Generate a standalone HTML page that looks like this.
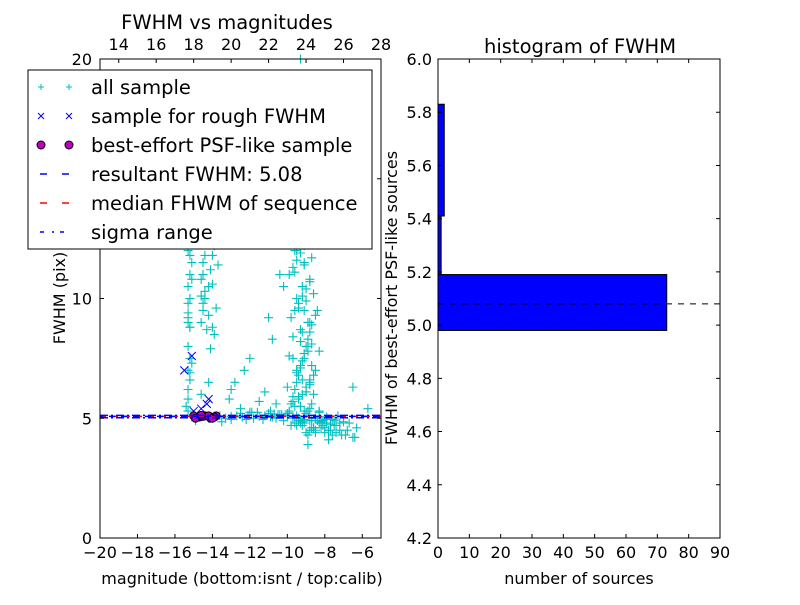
<!DOCTYPE html>
<html><head><meta charset="utf-8"><style>
body{margin:0;background:#fff;font-family:"Liberation Sans","DejaVu Sans",sans-serif}
svg text{font-family:"DejaVu Sans","Liberation Sans",sans-serif}
</style></head><body>
<svg id="c" width="800" height="600" xmlns="http://www.w3.org/2000/svg"></svg>
<script>
// scatter data: all sample (magnitude, fwhm)
const allX=[-15.3,-15.3,-15.2,-15.3,-15.2,-15.3,-15.2,-15.3,-15.3,-15.2,-15.3,-15.2,-15.1,-15.3,-15.2,-15.3,-15.2,-15.4,-15.1,-15.3,
-14.6,-14.5,-14.4,-14.6,-14.5,-14.3,-14.6,-14.5,-14.4,-14.2,-14.1,-14.0,-13.9,-14.3,-14.2,-14.0,-13.8,-14.5,-14.4,-13.9,-14.1,-14.6,-14.3,-13.7,-14.0,-14.2,
-9.9,-9.8,-9.7,-9.6,-9.5,-9.4,-9.3,-9.2,-9.1,-9.0,-8.9,-8.8,-8.7,-9.8,-9.6,-9.4,-9.2,-9.0,-8.8,-9.9,-9.7,-9.5,-9.3,-9.1,-8.9,-9.6,-9.4,-9.2,-9.0,-8.7,-9.5,-9.3,-9.1,-8.9,-9.8,-9.4,-9.0,-8.6,-8.5,-9.7,-9.3,-8.8,-9.5,-9.1,-9.6,-9.2,-8.8,-9.4,-9.0,-10.2,-10.5,-9.9,-9.3,-8.3,-9.8,-8.9,-9.4,-10.0,-9.2,-8.7,-9.1,-9.5,-8.6,-9.3,-9.7,-9.0,-8.8,
-9.6,-9.3,-9.0,-10.1,-10.4,-8.4,-9.9,-9.2,-11.5,-11.2,-10.8,-12.3,-13.1,-12.0,-11.0,-10.6,-12.8,
-14.8,-14.5,-14.2,-13.9,-13.6,-13.3,-13.0,-12.7,-12.4,-12.1,-11.8,-11.5,-11.2,-10.9,-10.6,-10.3,-10.0,-9.7,-9.4,-9.1,-8.8,-8.5,-8.2,-7.9,-7.6,-7.3,-12.5,-11.6,-10.4,-9.3,-8.1,-13.5,-11.9,-10.7,-9.8,-8.6,-14.9,-12.2,
-8.3,-8.0,-7.7,-7.4,-7.1,-6.8,-6.5,-6.3,-8.1,-7.5,-6.9,-7.8,-8.5,-6.7,-7.2,-6.4,-5.7,-6.5,-8.9,
-9.6,-9.4,-9.2,-9.0,-8.8,-9.5,-9.3,-9.1,-8.9,-8.7,-9.7,-9.3,-8.9,-8.5,-9.4,-9.0,-8.6,-9.2,-8.8,-9.6,-9.1,-8.7,-9.5,-9.0,-8.4,-9.8,-9.2,-8.6,-9.3,-8.9,
-9.5,-9.1,-8.7,-9.4,-8.8,-9.2,-9.0,-8.6,-9.6,-8.5,-9.3,-8.9,-9.1,-8.7,-9.4,-9.0,-8.8,-8.2,-8.0,-7.8,-8.4,-7.6,-8.1,-7.9,-8.3,
-11.0,-10.5,-10.0,-9.5,-9.0,-8.5,-8.0,-7.5,-7.0,-11.3,-10.8,-10.2,-9.7,-9.2,-8.7,-8.2,-7.7,-7.2,-13.0,-12.0,-10.9,-9.9,-8.9,-8.3,-7.4,
-15.2,-15.3,-15.1,-14.5,-14.4,-14.3,-14.6,-13.0,-12.5,-9.9,-10.1,-9.7,-9.8,-9.6,-9.9,-9.7];
const allY=[5.8,6.2,6.6,7.0,7.5,8.0,8.8,9.0,9.4,10.0,10.5,11.0,11.5,12.0,11.8,9.2,6.9,5.5,7.3,5.3,
9.0,9.5,10.0,10.8,11.5,12.5,13.0,9.8,10.3,10.5,11.2,11.8,12.2,8.7,9.3,10.6,9.6,11.0,12.8,8.5,7.9,10.1,13.5,11.4,8.8,6.5,
5.3,5.6,5.9,6.2,6.5,6.8,7.1,7.4,7.7,8.0,8.3,8.6,8.9,9.2,9.5,9.8,10.1,10.4,10.7,11.0,11.3,11.6,11.9,12.2,12.5,12.8,13.1,13.4,13.7,14.0,14.5,15.0,15.5,16.0,16.5,17.0,17.5,6.0,7.0,7.5,8.2,9.0,10.0,11.5,12.0,14.8,6.5,18.5,19.2,10.5,12.5,13.8,20.0,7.8,15.2,8.0,5.9,6.3,6.6,7.2,9.5,7.0,6.8,5.5,5.7,6.1,5.4,
16.2,17.8,12.8,13.0,11.0,9.5,7.6,8.6,5.7,6.1,8.3,7.0,5.8,7.5,9.2,5.6,6.5,
5.05,5.1,5.0,5.05,5.1,5.0,5.08,5.1,5.05,5.12,5.0,5.08,5.1,5.05,5.0,5.15,5.1,5.05,5.0,4.95,4.9,5.0,4.85,5.05,4.95,5.1,5.2,5.25,5.15,4.8,4.9,4.85,5.25,5.18,4.7,4.6,4.9,4.95,
4.8,4.6,4.5,4.4,4.3,4.5,4.2,4.6,4.9,4.7,4.3,4.1,4.4,4.8,4.5,4.2,5.4,6.3,3.9,
5.5,5.8,6.0,6.3,6.6,6.9,7.2,7.5,7.8,8.1,8.4,8.7,9.0,9.3,9.6,9.9,10.2,10.5,10.8,11.1,11.4,11.7,12.0,12.3,12.6,13.0,13.3,13.6,14.2,14.6,
4.7,4.8,4.6,4.9,4.5,4.7,4.4,4.6,4.8,4.5,4.9,4.3,5.3,5.6,5.9,6.1,6.4,4.6,4.4,4.5,4.9,4.3,4.7,4.8,5.3,
5.2,5.15,5.2,5.1,5.2,5.0,4.95,4.9,4.85,4.95,5.05,4.9,5.0,4.85,4.9,4.8,4.75,4.8,4.95,5.25,5.3,5.22,5.3,5.25,4.7,
8.8,9.8,10.8,12.5,11.8,13.3,6.0,6.2,5.4,15.8,14.6,16.8,17.2,18.0,12.8,15.6];
// sample for rough FWHM
const roughX=[-15.5,-15.1,-15.0,-14.2,-14.3,-14.6];
const roughY=[7.0,7.6,5.3,5.8,5.6,5.4];
// best-effort PSF-like sample
const psfX=[-15.0,-14.7,-14.4,-14.1,-13.8,-14.9,-14.5,-14.2,-13.9,-14.6,-14.0];
const psfY=[5.1,5.05,5.1,5.0,5.1,5.0,5.08,5.1,5.05,5.12,5.0];
const resultFWHM=5.08, medianFWHM=5.08, sigmaLo=5.02, sigmaHi=5.12;
// histogram
const binLo=[4.98,5.19,5.41];
const binHi=[5.19,5.41,5.83];
const binCount=[73,1,2];
const xTicksL=[-20,-18,-16,-14,-12,-10,-8,-6];
const xTicksTop=[14,16,18,20,22,24,26,28];
const yTicksL=[0,5,10,15,20];
const xTicksR=[0,10,20,30,40,50,60,70,80,90];
const yTicksR=[4.2,4.4,4.6,4.8,5.0,5.2,5.4,5.6,5.8,6.0];

const NS="http://www.w3.org/2000/svg",svg=document.getElementById('c');
function E(t,a,p){const e=document.createElementNS(NS,t);for(const k in a)e.setAttribute(k,a[k]);(p||svg).appendChild(e);return e;}
const L={x0:100,x1:381,y0:59,y1:538};
const lx=v=>L.x0+(v+20)/15*(L.x1-L.x0), ly=v=>L.y1-v/20*(L.y1-L.y0), tx=v=>lx(v-33);
const R={x0:438,x1:720,y0:59,y1:538};
const rx=v=>R.x0+v/90*(R.x1-R.x0), ry=v=>R.y1-(v-4.2)/1.8*(R.y1-R.y0);
const FS=16;

// left plot
const gl=E('g',{});
const gp=E('g',{},gl);
allX.forEach((x,i)=>{const X=lx(x),Y=ly(allY[i]);E('path',{d:`M${X-4.5},${Y}h9M${X},${Y-4.5}v9`,stroke:'#00bfbf','stroke-width':1.1},gp);});
const gr=E('g',{},gl);
roughX.forEach((x,i)=>{const X=lx(x),Y=ly(roughY[i]);E('path',{d:`M${X-4},${Y-4}l8,8M${X-4},${Y+4}l8,-8`,stroke:'#0000ff','stroke-width':1},gr);});
const gq=E('g',{},gl);
psfX.forEach((x,i)=>E('circle',{cx:lx(x),cy:ly(psfY[i]),r:4,fill:'#bf00bf',stroke:'#000'},gq));
let ln=E('line',{x1:L.x0,x2:L.x1,y1:ly(medianFWHM),y2:ly(medianFWHM),stroke:'#ff0000','stroke-dasharray':'6 6','stroke-width':1.5},gl);
ln=E('line',{x1:L.x0,x2:L.x1,y1:ly(resultFWHM),y2:ly(resultFWHM),stroke:'#0000ff','stroke-dasharray':'6 6','stroke-dashoffset':3,'stroke-width':1.5},gl);
[sigmaLo,sigmaHi].forEach(v=>{const s=E('line',{x1:L.x0,x2:L.x1,y1:ly(v),y2:ly(v),stroke:'#0000ff','stroke-dasharray':'8 3 2 3','stroke-width':1.5},gl);});
E('rect',{x:L.x0,y:L.y0,width:L.x1-L.x0,height:L.y1-L.y0,fill:'none',stroke:'#000'});
xTicksL.forEach(v=>{const X=lx(v);E('path',{d:`M${X},${L.y1}v-4`,stroke:'#000'});const t=E('text',{x:X,y:L.y1+20,'text-anchor':'middle','font-size':FS});t.textContent=(v<0?'\u2212':'')+Math.abs(v);});
xTicksTop.forEach(v=>{const X=tx(v);E('path',{d:`M${X},${L.y0}v4`,stroke:'#000'});const t=E('text',{x:X,y:L.y0-9,'text-anchor':'middle','font-size':FS});t.textContent=v;});
yTicksL.forEach(v=>{const Y=ly(v);E('path',{d:`M${L.x0},${Y}h4M${L.x1},${Y}h-4`,stroke:'#000'});const t=E('text',{x:L.x0-8,y:Y+6,'text-anchor':'end','font-size':FS});t.textContent=v;});
let t=E('text',{x:227,y:29,'text-anchor':'middle','font-size':19.5});t.textContent='FWHM vs magnitudes';
t=E('text',{x:242,y:584,'text-anchor':'middle','font-size':FS});t.textContent='magnitude (bottom:isnt / top:calib)';
t=E('text',{x:65,y:298,'text-anchor':'middle','font-size':FS,transform:'rotate(-90 65 298)'});t.textContent='FWHM (pix)';

// legend
const lg=E('g',{});
E('rect',{x:28,y:70,width:344,height:179,fill:'#fff',stroke:'#000'},lg);
const labels=['all sample','sample for rough FWHM','best-effort PSF-like sample','resultant FWHM: 5.08','median FHWM of sequence','sigma range'];
labels.forEach((s,i)=>{const Y=87+i*29;const ge=E('g',{},lg);
[41,69].forEach(X=>{if(i==0)E('path',{d:`M${X-3},${Y}h6M${X},${Y-3}v6`,stroke:'#00bfbf'},ge);if(i==1)E('path',{d:`M${X-3},${Y-3}l6,6M${X-3},${Y+3}l6,-6`,stroke:'#0000ff'},ge);if(i==2)E('circle',{cx:X,cy:Y,r:4,fill:'#bf00bf',stroke:'#000'},ge);});
if(i==3)E('path',{d:`M40,${Y}h7M62,${Y}h7`,stroke:'#0000ff','stroke-width':1.5},ge);
if(i==4)E('path',{d:`M40,${Y}h7M62,${Y}h7`,stroke:'#ff0000','stroke-width':1.5},ge);
if(i==5)E('path',{d:`M40,${Y}h4M52,${Y}h2M60,${Y}h4`,stroke:'#0000ff','stroke-width':1.5},ge);
const tt=E('text',{x:91,y:Y+7,'font-size':19.5},ge);tt.textContent=s;});

// right plot
const gh=E('g',{});
binCount.forEach((c,i)=>{const b=E('rect',{x:rx(0),y:ry(binHi[i]),width:rx(c)-rx(0),height:ry(binLo[i])-ry(binHi[i]),fill:'#0000ff',stroke:'#000'},gh);});
ln=E('line',{x1:R.x0,x2:R.x1,y1:ry(resultFWHM),y2:ry(resultFWHM),stroke:'#000','stroke-dasharray':'6 6'},gh);
E('rect',{x:R.x0,y:R.y0,width:R.x1-R.x0,height:R.y1-R.y0,fill:'none',stroke:'#000'});
xTicksR.forEach(v=>{const X=rx(v);E('path',{d:`M${X},${R.y1}v-4M${X},${R.y0}v4`,stroke:'#000'});const t=E('text',{x:X,y:R.y1+20,'text-anchor':'middle','font-size':FS});t.textContent=v;});
yTicksR.forEach(v=>{const Y=ry(v);E('path',{d:`M${R.x0},${Y}h4M${R.x1},${Y}h-4`,stroke:'#000'});const t=E('text',{x:R.x0-6,y:Y+6,'text-anchor':'end','font-size':FS});t.textContent=v.toFixed(1);});
t=E('text',{x:580,y:53,'text-anchor':'middle','font-size':19.5});t.textContent='histogram of FWHM';
t=E('text',{x:579,y:584,'text-anchor':'middle','font-size':FS});t.textContent='number of sources';
t=E('text',{x:397,y:298,'text-anchor':'middle','font-size':FS,transform:'rotate(-90 397 298)'});t.textContent='FWHM of best-effort PSF-like sources';
</script>
</body></html>
